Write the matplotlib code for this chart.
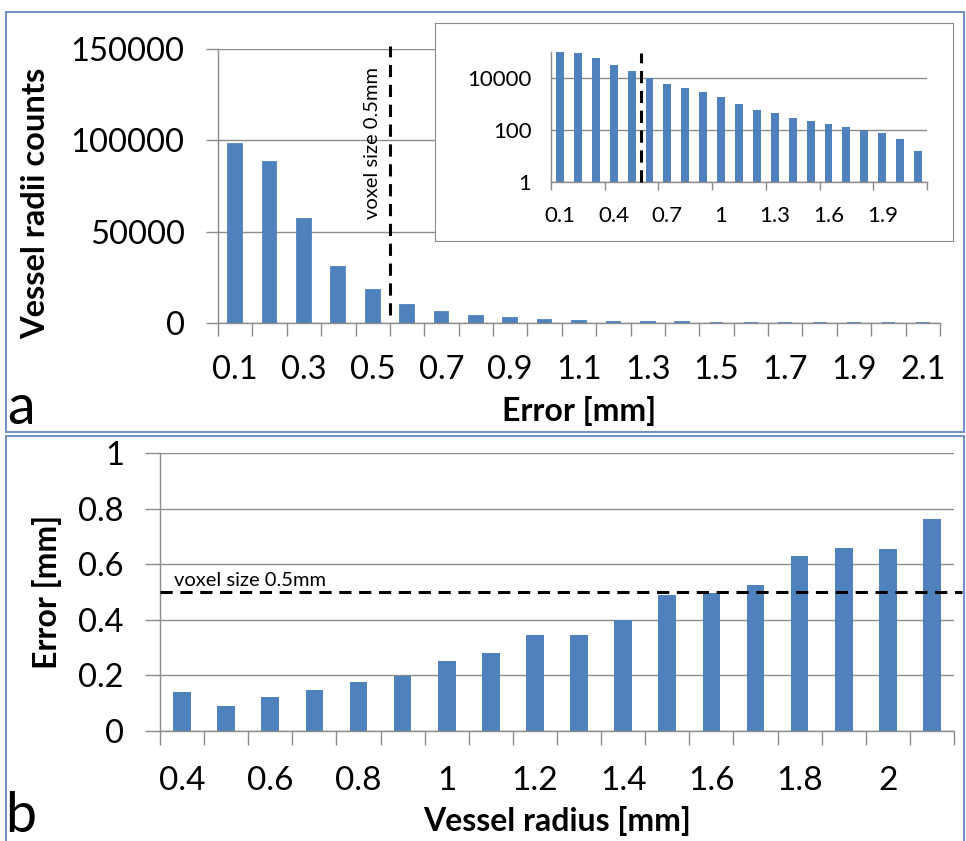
import numpy as np
import matplotlib.pyplot as plt
from matplotlib.patches import Rectangle

plt.rcParams['font.family'] = ['Lato', 'DejaVu Sans']

# panel a : histogram of radius error
err_labels = ['0.1', '0.2', '0.3', '0.4', '0.5', '0.6', '0.7', '0.8', '0.9', '1', '1.1',
              '1.2', '1.3', '1.4', '1.5', '1.6', '1.7', '1.8', '1.9', '2', '2.1']
err_counts = [98000, 88000, 57000, 30500, 18000, 10000, 5900, 3900, 2900, 1800, 1000,
              580, 440, 290, 215, 165, 123, 100, 78, 45, 16]

# panel b : mean error per vessel radius
radius_labels = ['0.4', '0.5', '0.6', '0.7', '0.8', '0.9', '1', '1.1', '1.2', '1.3',
                 '1.4', '1.5', '1.6', '1.7', '1.8', '1.9', '2', '2.1']
radius_err = [0.14, 0.089, 0.123, 0.147, 0.176, 0.197, 0.253, 0.281, 0.345, 0.345,
              0.40, 0.49, 0.497, 0.525, 0.63, 0.66, 0.654, 0.763]

voxel = 0.5
blue = '#4f81bd'
grey = '#8c8c8c'
W, H = 966, 841


def fx(px):
    return px / W


def fy(py):
    return 1 - py / H


def excel_axes(ax):
    for s in ['top', 'right']:
        ax.spines[s].set_visible(False)
    for s in ['left', 'bottom']:
        ax.spines[s].set_color(grey)
        ax.spines[s].set_linewidth(1)
    ax.yaxis.grid(True, color=grey, lw=1)
    ax.set_axisbelow(True)


fig = plt.figure(figsize=(W / 100, H / 100), dpi=100)

# 패널 테두리
fig.add_artist(Rectangle((fx(6), fy(432)), fx(958), 420 / H, transform=fig.transFigure,
                         fill=False, ec='#7393c4', lw=1.5))
fig.add_artist(Rectangle((fx(6), fy(850)), fx(958), 414 / H, transform=fig.transFigure,
                         fill=False, ec='#7393c4', lw=1.5))

# ---- a ----
ax1 = fig.add_axes([fx(218), fy(323), fx(940 - 218), (323 - 49) / H])
x1 = np.arange(len(err_counts))
# edge keeps the tiny bars visible like in the original
ax1.bar(x1, err_counts, width=0.4, color=blue, edgecolor=blue, lw=1.3, zorder=2)
excel_axes(ax1)
ax1.set_xlim(-0.5, len(err_counts) - 0.5)
ax1.set_ylim(0, 150000)
ax1.set_yticks([0, 50000, 100000, 150000])
ax1.set_yticklabels(['0', '50000', '100000', '150000'])
ax1.set_xticks(x1[::2])
ax1.set_xticklabels(err_labels[::2])
ax1.set_xticks(np.arange(-0.5, len(err_counts)), minor=True)
ax1.tick_params(axis='x', which='major', length=0, pad=23, labelsize=23.5)
ax1.tick_params(axis='x', which='minor', length=9, color=grey, width=1)
ax1.tick_params(axis='y', length=9, color=grey, width=1, pad=15, labelsize=23.5)
ax1.plot([4.5, 4.5], [4400, 151500], color='k', ls='--', lw=2.2, dashes=(4, 2.5),
         clip_on=False, zorder=3)
ax1.text(4.0, 98500, 'voxel size 0.5mm', rotation=90, ha='center', va='center', fontsize=14.5)

# inset box
box = fig.add_axes([fx(435), fy(241), fx(953 - 435), (241 - 23) / H])
box.set_xticks([])
box.set_yticks([])
for s in box.spines.values():
    s.set_color(grey)

ax_in = fig.add_axes([fx(551), fy(182), fx(927 - 551), (182 - 51.5) / H])
ax_in.set_facecolor('none')
ax_in.set_yscale('log')
ax_in.bar(x1, err_counts, width=0.44, color=blue, zorder=2)
excel_axes(ax_in)
ax_in.set_xlim(-0.5, len(err_counts) - 0.5)
ax_in.set_ylim(1, 1e5)
ax_in.set_yticks([1, 100, 10000])
ax_in.set_yticklabels(['1', '100', '10000'])
ax_in.minorticks_off()
ax_in.set_xticks(x1[::3])
ax_in.set_xticklabels(err_labels[::3])
ax_in.set_xticks(np.arange(-0.5, len(err_counts), 3), minor=True)
ax_in.tick_params(axis='x', which='major', length=0, pad=17, labelsize=16)
ax_in.tick_params(axis='x', which='minor', length=6, color=grey, width=1)
ax_in.tick_params(axis='y', length=0, pad=14, labelsize=16)
ax_in.plot([4.5, 4.5], [1, 9e4], color='k', ls='--', lw=2.2, dashes=(4, 2.5),
           clip_on=False, zorder=3)

fig.text(fx(36), fy(203), 'Vessel radii counts', rotation=90, fontweight='bold',
         fontsize=23.5, ha='center', va='center')
fig.text(fx(579), fy(411), 'Error [mm]', fontweight='bold', fontsize=23, ha='center', va='center')
fig.text(fx(21), fy(424), 'a', fontsize=40, ha='center', va='baseline')

# ---- b ----
ax2 = fig.add_axes([fx(160), fy(731), fx(954 - 160), (731 - 453) / H])
x2 = np.arange(len(radius_err))
ax2.bar(x2, radius_err, width=0.4, color=blue, zorder=2)
excel_axes(ax2)
ax2.set_xlim(-0.5, len(radius_err) - 0.5)
ax2.set_ylim(0, 1)
ax2.set_yticks([0, 0.2, 0.4, 0.6, 0.8, 1])
ax2.set_yticklabels(['0', '0.2', '0.4', '0.6', '0.8', '1'])
ax2.set_xticks(x2[::2])
ax2.set_xticklabels(radius_labels[::2])
ax2.set_xticks(np.arange(-0.5, len(radius_err)), minor=True)
ax2.tick_params(axis='x', which='major', length=0, pad=25, labelsize=24)
ax2.tick_params(axis='x', which='minor', length=10, color=grey, width=1)
ax2.tick_params(axis='y', length=11, color=grey, width=1, pad=15, labelsize=23.5)
ax2.plot([-0.5, len(radius_err) - 0.32], [voxel, voxel], color='k', ls='--', lw=2.2,
         dashes=(4, 2.5), clip_on=False, zorder=3)
ax2.text(-0.18, voxel + 0.01, 'voxel size 0.5mm', ha='left', va='bottom', fontsize=14.5)

fig.text(fx(47), fy(592), 'Error [mm]', rotation=90, fontweight='bold',
         fontsize=23, ha='center', va='center')
fig.text(fx(557), fy(821), 'Vessel radius [mm]', fontweight='bold', fontsize=23,
         ha='center', va='center')
fig.text(fx(21), fy(832), 'b', fontsize=40, ha='center', va='baseline')

fig.savefig('out.png', dpi=100)
